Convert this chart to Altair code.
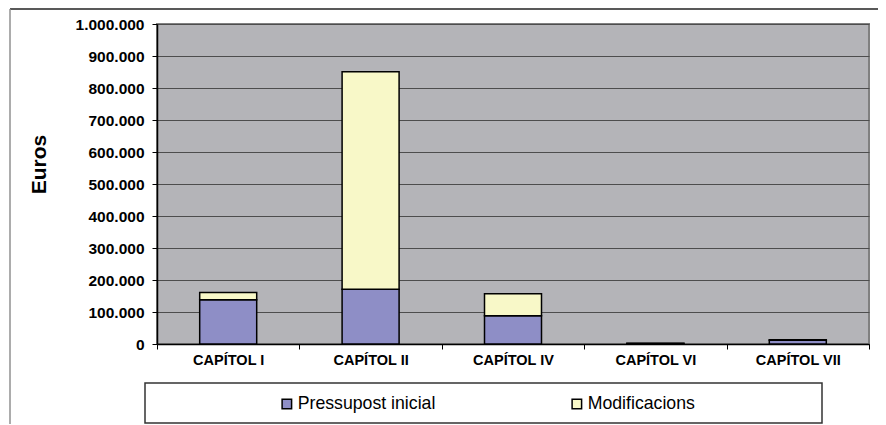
import altair as alt
import pandas as pd

categories = ["CAPÍTOL I", "CAPÍTOL II", "CAPÍTOL IV", "CAPÍTOL VI", "CAPÍTOL VII"]
pressupost = [138000, 171000, 88000, 1500, 12000]
modificacions = [23000, 680000, 69000, 500, 1500]
series = ["Pressupost inicial", "Modificacions"]
colors = ["#8e8ec6", "#f8f8c8"]
y_ticks = [0, 100000, 200000, 300000, 400000, 500000, 600000, 700000, 800000, 900000, 1000000]

rows = []
for c, p, m in zip(categories, pressupost, modificacions):
    rows.append({"cat": c, "serie": series[0], "ord": 0, "val": p})
    rows.append({"cat": c, "serie": series[1], "ord": 1, "val": m})
df = pd.DataFrame(rows)

FONT = "Liberation Sans"
W, H = 712, 320

bars = alt.Chart(df).mark_bar(size=57, stroke="black", strokeWidth=1.5).encode(
    x=alt.X("cat:N", sort=categories,
            scale=alt.Scale(paddingInner=0, paddingOuter=0),
            axis=alt.Axis(title=None, labelAngle=0, labelFont=FONT, labelFontSize=14.5,
                          labelFontWeight="bold", labelColor="black", labelPadding=4,
                          tickBand="extent", tickSize=5, tickColor="black",
                          domainColor="black", domainWidth=1.5)),
    y=alt.Y("val:Q", stack="zero",
            scale=alt.Scale(domain=[0, 1000000], nice=False),
            axis=alt.Axis(title="Euros", values=y_ticks,
                          labelExpr="join(split(format(datum.value, ','), ','), '.')",
                          labelFont=FONT, labelFontSize=15.5, labelFontWeight="bold",
                          labelColor="black", labelPadding=8, tickSize=5, tickColor="black",
                          domainColor="black", domainWidth=1.5,
                          gridColor="#4d4d4d", gridWidth=1.2,
                          titleFont=FONT, titleFontSize=21, titleFontWeight="bold",
                          titleColor="black", titleAngle=270, titleX=-112, titleY=140,
                          titleAlign="center", titleBaseline="alphabetic")),
    color=alt.Color("serie:N", sort=series,
                    scale=alt.Scale(domain=series, range=colors),
                    legend=alt.Legend(title=None, orient="none", legendX=121, legendY=371,
                                      direction="horizontal", labelFont=FONT,
                                      labelFontSize=17.7, labelColor="black",
                                      symbolType="square", symbolSize=90,
                                      symbolStrokeColor="black", symbolStrokeWidth=1.5,
                                      symbolOpacity=1, labelOffset=2,
                                      columnPadding=132)),
    order=alt.Order("ord:Q"),
)

frame_df = pd.DataFrame({"k": [0]})
frame_top = alt.Chart(frame_df).mark_rule(color="#222222", strokeWidth=1.5).encode(
    x=alt.value(-147), x2=alt.value(W + 20), y=alt.value(-15))
frame_left = alt.Chart(frame_df).mark_rule(color="#909090", strokeWidth=1.5).encode(
    x=alt.value(-147), y=alt.value(-15), y2=alt.value(H + 90))
legend_box = alt.Chart(frame_df).mark_rect(fill="white", stroke="#333333", strokeWidth=1.5).encode(
    x=alt.value(-12), x2=alt.value(665), y=alt.value(359), y2=alt.value(399))

chart = alt.layer(frame_top, frame_left, legend_box, bars).properties(
    width=W, height=H,
    background="white",
    autosize=alt.AutoSizeParams(type="none"),
    padding={"left": 149, "top": 16, "right": 9, "bottom": 80},
).configure_view(
    fill="#b4b4b8", stroke="#808080", strokeWidth=2
)

chart.save("out.html", embed_options={"renderer": "svg", "actions": False})
